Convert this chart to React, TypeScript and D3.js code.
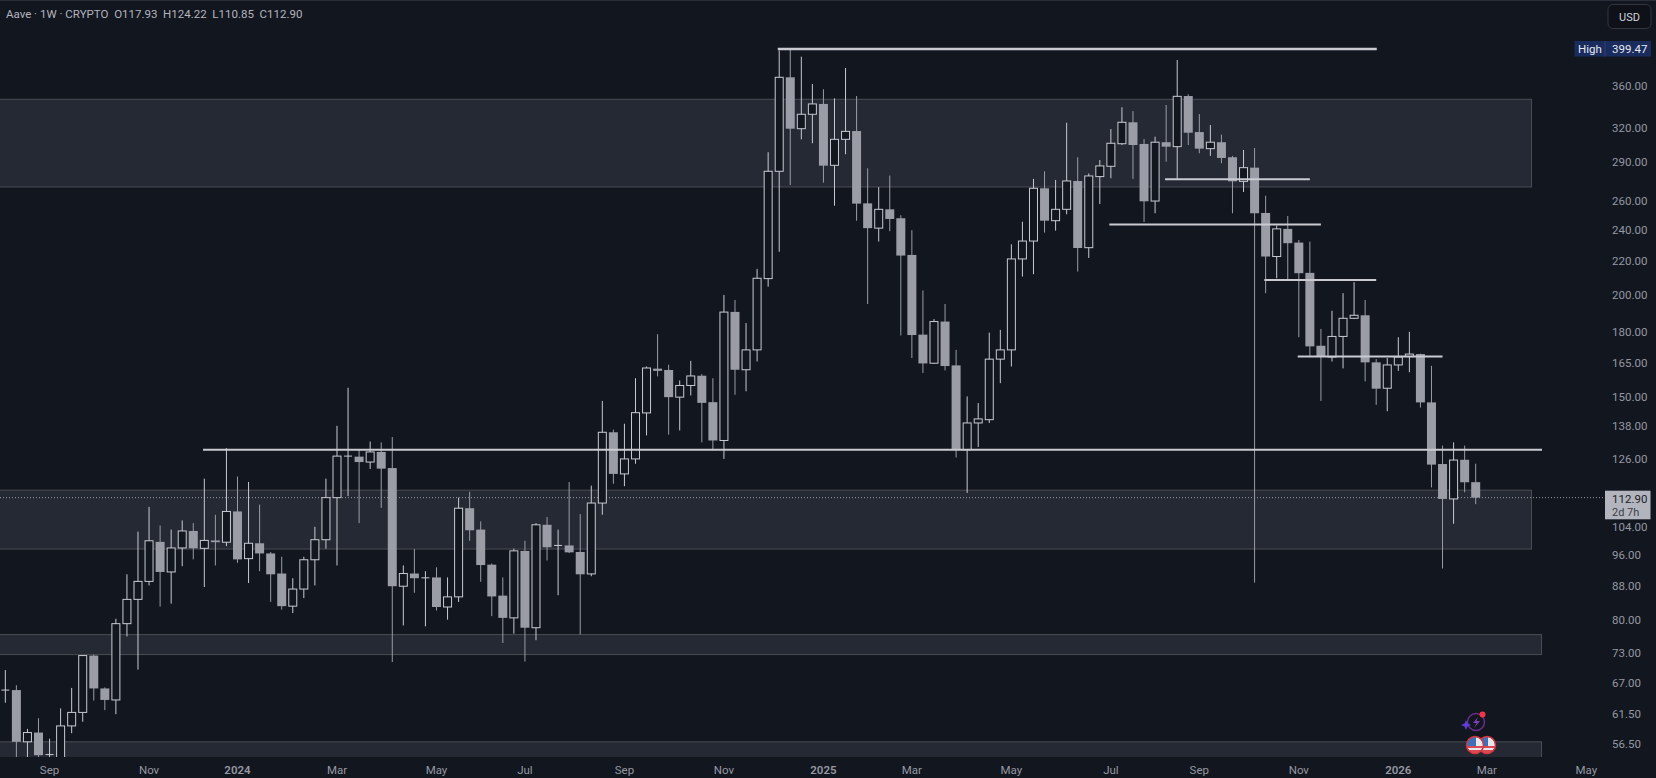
import React from "react";
import * as d3 from "d3";

const opens = [65.7,65.7,56.8,58.3,54.7,54.2,59.4,61.7,72.4,66.0,63.9,79.2,84.8,89.2,99.7,91.6,98.0,102.8,97.9,100.1,
99.6,108.6,95.1,99.3,96.5,91.2,83.2,87.3,94.8,100.3,112.9,126.9,126.7,124.8,128.4,122.7,88.0,91.2,90.1,90.2,
83.0,85.4,109.6,103.2,93.5,85.7,80.5,97.2,78.3,104.6,98.4,98.7,96.9,91.1,111.2,135.7,120.7,125.9,143.3,162.3,
161.7,149.8,154.8,159.1,147.7,132.6,190.4,161.8,171.1,209.1,282.8,368.4,318.8,332,341.8,287.6,309.4,316.7,258.4,241,
254.1,247.8,223.5,178.6,164.8,185.3,163.8,129.2,139.3,140.6,166.7,171.1,221,232.4,269.6,246.1,254.1,275.2,228.1,278.6,
286.8,305.6,324.6,305.4,260.1,306.9,303.1,349.5,315.8,301.4,306.9,294.2,274.9,285.7,251.5,222.5,240.5,231.4,212.5,173.1,
167.7,177.7,187,188.6,165.2,153.6,164,167.9,169.1,147.6,124.1,112.5,125.6,117.93];
const highs = [69.5,66.6,58.9,60.7,57.3,62.4,66.1,72.5,72.6,66.2,80.3,91,102.6,110,104.4,103.2,105.9,105.1,119.1,107.6,
129.8,119.8,118,110.7,96.9,95.6,90,95.6,104,119.1,138.2,153.8,129.2,132.2,131.9,133.9,93.3,97.7,91.8,92.8,
90.2,112.9,114.8,105.6,93.8,90.2,97.8,100,105.1,106.9,103.2,118,107.8,116.8,148.2,136.7,139,158,163.3,178.8,
164.1,157,165.9,159.8,158,199.7,196.9,184.5,214.9,298.4,397.3,399.47,390.4,361.5,356.2,347.2,378.2,349.5,285.2,270.5,
279.4,249.9,239.6,202.2,186.6,194.7,171.1,150.1,147.3,179.6,181,230.3,245.4,276.8,282.8,276,324.2,294.2,281.1,291.9,
318.5,338.6,335,309.7,311.7,340.8,386.8,351.2,332.2,322.1,313.5,295.3,300.3,302,264,242.7,249.4,233.1,232,181.5,
191,200.7,207,196.9,166.7,167.2,177.3,180,169.3,163.6,130.7,131.9,130.7,124.22];
const lows = [63.4,53,54,53,54.3,53.6,58.2,60.1,63.8,62.1,61.4,76.4,69.6,88.2,83.1,83.8,93.1,94.9,87.8,93.3,
98.5,94,88.8,91.8,84.2,82.4,81.6,85.1,88.2,97.8,93.3,113.4,105.1,122.4,109.7,71.1,78.8,86.4,78.6,82.2,
80.1,84.2,100,89.1,80.9,75,77,71.2,75.6,94.6,85.8,96.6,76.8,90.5,107.6,117.4,116.6,124.2,134.5,158.8,
134.8,136.4,150.5,131.9,129.2,125.9,150.8,152.3,165.6,204.4,225.5,272.1,309.4,306,273.9,256.7,296.7,246.1,194.7,232.1,
238.9,178.2,167.2,160.3,164.5,161.5,126.4,114.4,130.2,139.3,155.8,163.3,210.3,211.7,238,239.3,250.6,213.3,221.6,257.9,
277.3,304.5,276.8,245.2,251.3,290.5,276.8,304.5,297.5,295.3,289.3,251.3,266.8,88.9,200.7,209.3,208.3,177.3,168,148.2,
165.6,162.4,186.6,156.6,146.6,144,161.3,160.7,145.5,116.2,92.5,104.9,114.6,110.85];
const closes = [65.7,56.8,58.3,54.7,54.8,59.4,61.7,72.4,66.0,63.9,79.2,84.8,89.2,100,91.6,98.0,102.8,97.9,100.1,99.6,
108.6,94.9,99.3,96.5,91.0,83.2,87.3,94.8,100.3,112.9,126.9,126.9,124.8,128.4,122.5,88.0,91.2,90.0,90.1,83.0,
85.4,109.6,103.0,93.4,85.5,80.5,97.2,78.3,104.6,98.2,98.7,96.8,91.0,111.2,135.7,120.7,125.9,143.4,162.6,161.3,
149.8,154.8,159.0,147.4,132.6,190.3,161.8,171.1,209.3,282.8,368.4,318.8,332,341.8,287.3,309.4,316.4,258.2,241,254.1,
247.3,223.1,178.4,164.7,185.3,163.5,129.2,139.3,140.9,166.7,171.1,221,232.4,269.6,246.1,254.1,275.2,227.9,279.1,287.1,
306,324.6,304.5,259.9,306.9,303.1,349.2,315.2,301.4,306.9,293.6,274.9,285.7,251.3,222.5,240.5,231,212.3,172.8,167.7,
177.7,187,188.6,165.2,153.4,164,167.7,169.1,147.6,123.9,112.5,125.5,117.9,112.9];

const priceTicks = [360,320,290,260,240,220,200,180,165,150,138,126,104,96,88,80,73,67,61.5,56.5];
const timeLabels = ["Sep","Nov","2024","Mar","May","Jul","Sep","Nov","2025","Mar","May","Jul","Sep","Nov","2026","Mar","May"];
const timeLabelBars = [4,13,21,30,39,47,56,65,74,82,91,100,108,117,126,134,143];

const zoneTop = [346.3,115.3,76.8,56.8];
const zoneBottom = [270.6,97.7,72.6,53];
const zoneEndBar = [138.05,138.05,138.95,138.95];

const levelPrice = [399.0,129.15,276.5,243.4,208.3,167.9];
const levelFrom = [69.87,17.88,104.9,99.86,113.88,116.9];
const levelTo = [124.05,139,118,119,124,130];

const lastPrice = 112.9;
const highPrice = 399.47;
const legend = "Aave · 1W · CRYPTO  O117.93  H124.22  L110.85  C112.90";

const BG = "#12161f";
const DOWN = "#9a9da6";
const UP = "#c8cad1";
const FONT = "Roboto, 'Liberation Sans', sans-serif";

export default function App() {
  const W = 1656, H = 778, paneBottom = 757;
  const x = d3.scaleLinear().domain([0, 133]).range([5.33, 1475.7]);
  const y = d3.scaleLog().domain([360, 56.5]).range([85.5, 743.7]);
  const bw = 8;
  return (
    <svg width={W} height={H} viewBox={`0 0 ${W} ${H}`} style={{ position: "fixed", left: 0, top: 0, display: "block", background: BG, fontFamily: FONT }}>
      <defs>
        <clipPath id="pane"><rect x={0} y={0} width={W} height={paneBottom} /></clipPath>
        <clipPath id="f1"><circle cx={1475} cy={745} r={8} /></clipPath>
        <clipPath id="f2"><circle cx={1487} cy={745} r={8} /></clipPath>
      </defs>
      <rect x={0} y={0} width={W} height={1} fill="#2a2e39" />
      <g clipPath="url(#pane)">
        {zoneTop.map((t, i) => (
          <rect key={i} x={-5} y={y(t)} width={x(zoneEndBar[i]) + 5} height={y(zoneBottom[i]) - y(t)} fill="#252933" stroke="#4a4d55" strokeWidth={1} />
        ))}
        <line x1={0} x2={1605} y1={y(lastPrice)} y2={y(lastPrice)} stroke="#9598a1" strokeWidth={1} strokeDasharray="1 2" />
        {opens.map((o, i) => {
          const c = closes[i];
          const up = c >= o;
          const top = y(Math.max(o, c));
          const bot = y(Math.min(o, c));
          const col = up ? UP : DOWN;
          const cx = x(i);
          return (
            <g key={i}>
              <line x1={cx} x2={cx} y1={y(highs[i])} y2={y(lows[i])} stroke={col} strokeWidth={1} />
              {up ? (
                bot - top < 1.2 ? (
                  <line x1={cx - bw / 2} x2={cx + bw / 2} y1={top} y2={top} stroke={col} strokeWidth={1} />
                ) : (
                  <rect x={cx - bw / 2} y={top} width={bw} height={bot - top} fill={BG} stroke={col} strokeWidth={1} />
                )
              ) : (
                <rect x={cx - bw / 2 - 0.5} y={top} width={bw + 1} height={Math.max(bot - top, 1)} fill={col} />
              )}
            </g>
          );
        })}
        {levelPrice.map((p, i) => (
          <line key={i} x1={x(levelFrom[i])} x2={x(levelTo[i])} y1={y(p)} y2={y(p)} stroke="#c9cbd1" strokeWidth={i === 0 ? 2.4 : 2} />
        ))}
      </g>

      <text x={6} y={18} fontSize={11.5} fill="#b2b5be" xmlSpace="preserve">{legend}</text>

      {priceTicks.map((t) => (
        <text key={t} x={1612} y={y(t)} dy="0.36em" fontSize={11.5} fill="#9598a1">{t.toFixed(2)}</text>
      ))}

      <rect x={1608} y={4.5} width={43} height={24} rx={5} fill="#0e1117" stroke="#33363f" />
      <text x={1629.5} y={20.5} fontSize={11} fill="#d1d4dc" textAnchor="middle">USD</text>

      <rect x={1574.5} y={41} width={76.5} height={15.5} fill="#1a2c5e" />
      <line x1={1605} x2={1605} y1={41} y2={56.5} stroke="#2c3f78" />
      <text x={1578} y={52.5} fontSize={11.5} fill="#e6e8ee">High</text>
      <text x={1612} y={52.5} fontSize={11.5} fill="#e6e8ee">{highPrice.toFixed(2)}</text>

      <rect x={1605} y={490.7} width={45.5} height={28.6} fill="#b2b5be" />
      <text x={1612} y={502.5} fontSize={11.5} fill="#1a1d26">{lastPrice.toFixed(2)}</text>
      <text x={1612} y={516} fontSize={11} fill="#3a3d46">2d 7h</text>

      {timeLabels.map((l, i) => (
        <text key={i} x={x(timeLabelBars[i])} y={774} fontSize={11.5} fill="#9598a1" textAnchor="middle" fontWeight={l.length === 4 ? 600 : 400}>{l}</text>
      ))}

      <g>
        <circle cx={1476} cy={722} r={8.5} fill="none" stroke="#6a2d8f" strokeWidth={1.5} />
        <path d="M1478,717 L1473,723 L1476.5,723 L1474,728 L1480,721 L1476.5,721 Z" fill="#7b3fb8" />
        <path d="M1466,720 L1467.5,723.5 L1471,725 L1467.5,726.5 L1466,730 L1464.5,726.5 L1461,725 L1464.5,723.5 Z" fill="#5b3fd6" />
        <circle cx={1482.5} cy={714.5} r={3} fill="#f23645" />
      </g>
      {[[1487, "f2"], [1475, "f1"]].map(([cx, id]) => {
        const c = cx as number;
        return (
          <g key={id as string}>
            <g clipPath={`url(#${id})`}>
              <rect x={c - 8} y={737} width={16} height={16} fill="#e8e8ec" />
              <rect x={c - 8} y={746} width={16} height={2} fill="#d94a55" />
              <rect x={c - 8} y={750} width={16} height={3} fill="#d94a55" />
              <rect x={c - 8} y={737} width={9} height={9} fill="#3f6fb5" />
            </g>
            <circle cx={c} cy={745} r={8.5} fill="none" stroke="#d8323f" strokeWidth={1.5} />
          </g>
        );
      })}
    </svg>
  );
}
